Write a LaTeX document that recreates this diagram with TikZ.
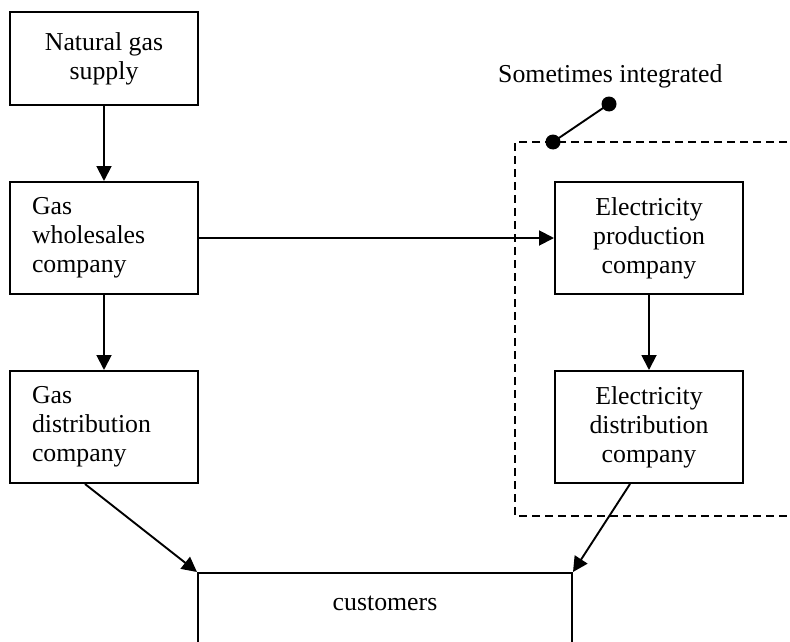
\documentclass[tikz,border=0pt]{standalone}
\usepackage{fontspec}
\setmainfont{Liberation Serif}
\usetikzlibrary{arrows.meta,positioning,calc}

\begin{document}
\begin{tikzpicture}[
    x=1pt, y=-1pt,
    node distance=75pt,
    font=\fontsize{25.8}{29}\selectfont,
    box/.style={rectangle, draw, line width=2pt, minimum width=188pt, minimum height=112pt, align=center},
    leftbox/.style={box, text width=144pt, inner xsep=22pt, align=left},
    flow/.style={-{Triangle[length=15pt,width=15pt]}, line width=1.9pt},
    group/.style={line width=2pt, dash pattern=on 8pt off 5pt}
]
    \useasboundingbox (0,0) rectangle (790,642);

    % gas side
    \node[box, minimum height=93pt] (natgas) at (104,58.5) {Natural gas\\supply};
    \node[leftbox, below=of natgas] (gaswhole) {Gas\\wholesales\\company};
    \node[leftbox, below=of gaswhole] (gasdist) {Gas\\distribution\\company};

    % electricity side
    \node[box, right=355pt of gaswhole] (elprod) {Electricity\\production\\company};
    \node[box, below=of elprod] (eldist) {Electricity\\distribution\\company};

    \node[draw, line width=2pt, minimum width=374pt, anchor=north, inner ysep=12pt,
          text height=25pt, text depth=60pt] (customers) at (385,572) {customers};

    % integrated group
    \draw[group] (800,142) -- (515,142) -- (515,516) -- (800,516);
    \node[anchor=base west, inner sep=0pt] (integ) at (498,82) {Sometimes integrated};
    \coordinate (dotA) at (609,104);
    \coordinate (dotB) at (553,142);
    \draw[line width=1.9pt] (dotA) -- (dotB);
    \fill (dotA) circle (7.5pt) (dotB) circle (7.5pt);

    \draw[flow] (natgas) -- (gaswhole);
    \draw[flow] (gaswhole) -- (gasdist);
    \draw[flow] (gaswhole) -- (elprod);
    \draw[flow] (elprod) -- (eldist);
    \draw[flow] ($(gasdist.south west)!0.4!(gasdist.south east)$) -- (customers.north west);
    \draw[flow] ($(eldist.south west)!0.4!(eldist.south east)$) -- (customers.north east);
\end{tikzpicture}
\end{document}
